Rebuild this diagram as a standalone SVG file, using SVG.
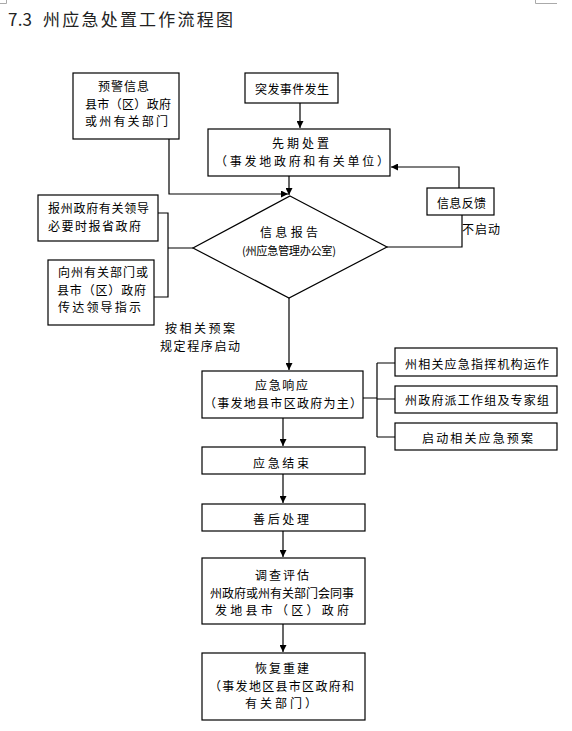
<svg xmlns="http://www.w3.org/2000/svg" width="572" height="731" viewBox="0 0 572 731">
<style>
.b{fill:#fff;stroke:#000;stroke-width:1.2}
.t{font-family:"Noto Sans CJK SC","Noto Sans CJK JP",sans-serif;font-size:12px;fill:#000;dominant-baseline:central}
.s{font-size:11.2px}
.c{fill:none;stroke:#000;stroke-width:1.2}
.a{marker-end:url(#ah)}
.m{fill:none;stroke:#aaa;stroke-width:1}
</style>
<defs>
<marker id="ah" markerUnits="userSpaceOnUse" markerWidth="7" markerHeight="7" refX="7" refY="3.5" orient="auto">
<path d="M0,0 L7,3.5 L0,7 z" fill="#000"/>
</marker>
</defs>
<rect width="572" height="731" fill="#fff"/>
<path class="m" d="M0,3.5 H6.5 V0 M557,3.5 H535.5 V0"/>
<text x="8" y="26" style="font-family:'Noto Sans CJK SC',sans-serif;font-size:17px;fill:#222"><tspan x="8" textLength="28">7.3 </tspan><tspan x="43" textLength="190">州应急处置工作流程图</tspan></text>

<g id="connectors">
<path class="c a" d="M169,139 V194 H288"/>
<path class="c a" d="M300,103 V128"/>
<path class="c a" d="M289,176 V195"/>
<path class="c" d="M387,247 H462 V215"/>
<path class="c a" d="M459,188 V167 H391"/>
<path class="c" d="M158,213 H168 V297 H154 M168,248 H193"/>
<path class="c a" d="M289,298 V370"/>
<path class="c" d="M363,398 H377 M377,363 V437 M377,363 H395 M377,399 H395 M377,437 H395"/>
<path class="c a" d="M283,418 V446"/>
<path class="c a" d="M283,474 V503"/>
<path class="c a" d="M283,531 V557"/>
<path class="c a" d="M283,624 V652"/>
<text class="t" x="462" y="228" textLength="38">不启动</text>
<text class="t" x="165" y="327.5" textLength="70">按相关预案</text>
<text class="t" x="160" y="345.5" textLength="80">规定程序启动</text>
</g>

<g id="yujing">
<rect class="b" x="73" y="73" width="106" height="66"/>
<text class="t" x="98" y="85.5" textLength="51">预警信息</text>
<text class="t" x="85" y="103" textLength="86">县市（区）政府</text>
<text class="t" x="85" y="120.5" textLength="83">或州有关部门</text>
</g>

<g id="tufa">
<rect class="b" x="245" y="73" width="93" height="30"/>
<text class="t" x="255" y="88" textLength="74">突发事件发生</text>
</g>

<g id="xianqi">
<rect class="b" x="208" y="129" width="182" height="47"/>
<text class="t" x="272" y="142" textLength="57">先期处置</text>
<text class="t" x="215" y="160" textLength="174">（事发地政府和有关单位）</text>
</g>

<g id="xinxibaogao">
<path class="b" d="M290,196 L387,247 L289,298 L193,248 Z"/>
<text class="t" x="260" y="231.5" textLength="58">信息报告</text>
<text class="t s" x="242" y="249.5" textLength="94">(州应急管理办公室)</text>
</g>

<g id="fankui">
<rect class="b" x="427" y="188" width="67" height="27"/>
<text class="t" x="437" y="202" textLength="49">信息反馈</text>
</g>

<g id="baozhou">
<rect class="b" x="38" y="195" width="120" height="46"/>
<text class="t" x="48" y="207.5" textLength="101">报州政府有关领导</text>
<text class="t" x="48" y="225.5" textLength="93">必要时报省政府</text>
</g>

<g id="xiangzhou">
<rect class="b" x="48" y="260" width="106" height="65"/>
<text class="t" x="58" y="271.5" textLength="90">向州有关部门或</text>
<text class="t" x="57" y="289" textLength="89">县市（区）政府</text>
<text class="t" x="58" y="306.5" textLength="83">传达领导指示</text>
</g>

<g id="xiangying">
<rect class="b" x="202" y="371" width="161" height="47"/>
<text class="t" x="255" y="384.5" textLength="53">应急响应</text>
<text class="t" x="204" y="402.5" textLength="158">（事发地县市区政府为主）</text>
</g>

<g id="zhihui">
<rect class="b" x="395" y="348" width="162" height="28"/>
<text class="t" x="405" y="363" textLength="144">州相关应急指挥机构运作</text>
</g>

<g id="gongzuozu">
<rect class="b" x="395" y="386" width="162" height="27"/>
<text class="t" x="405" y="399" textLength="144">州政府派工作组及专家组</text>
</g>

<g id="yuan">
<rect class="b" x="395" y="423" width="162" height="27"/>
<text class="t" x="422" y="437" textLength="111">启动相关应急预案</text>
</g>

<g id="jieshu">
<rect class="b" x="202" y="447" width="163" height="27"/>
<text class="t" x="253" y="462" textLength="56">应急结束</text>
</g>

<g id="shanhou">
<rect class="b" x="202" y="504" width="163" height="27"/>
<text class="t" x="253" y="518" textLength="56">善后处理</text>
</g>

<g id="diaocha">
<rect class="b" x="202" y="558" width="163" height="66"/>
<text class="t" x="255" y="574.5" textLength="54">调查评估</text>
<text class="t" x="210" y="592" textLength="144">州政府或州有关部门会同事</text>
<text class="t" x="215" y="609.5" textLength="134">发地县市（区）政府</text>
</g>

<g id="huifu">
<rect class="b" x="202" y="653" width="163" height="67"/>
<text class="t" x="255" y="667.5" textLength="54">恢复重建</text>
<text class="t" x="209" y="685" textLength="145">（事发地区县市区政府和</text>
<text class="t" x="245" y="702.5" textLength="72">有关部门）</text>
</g>
</svg>
